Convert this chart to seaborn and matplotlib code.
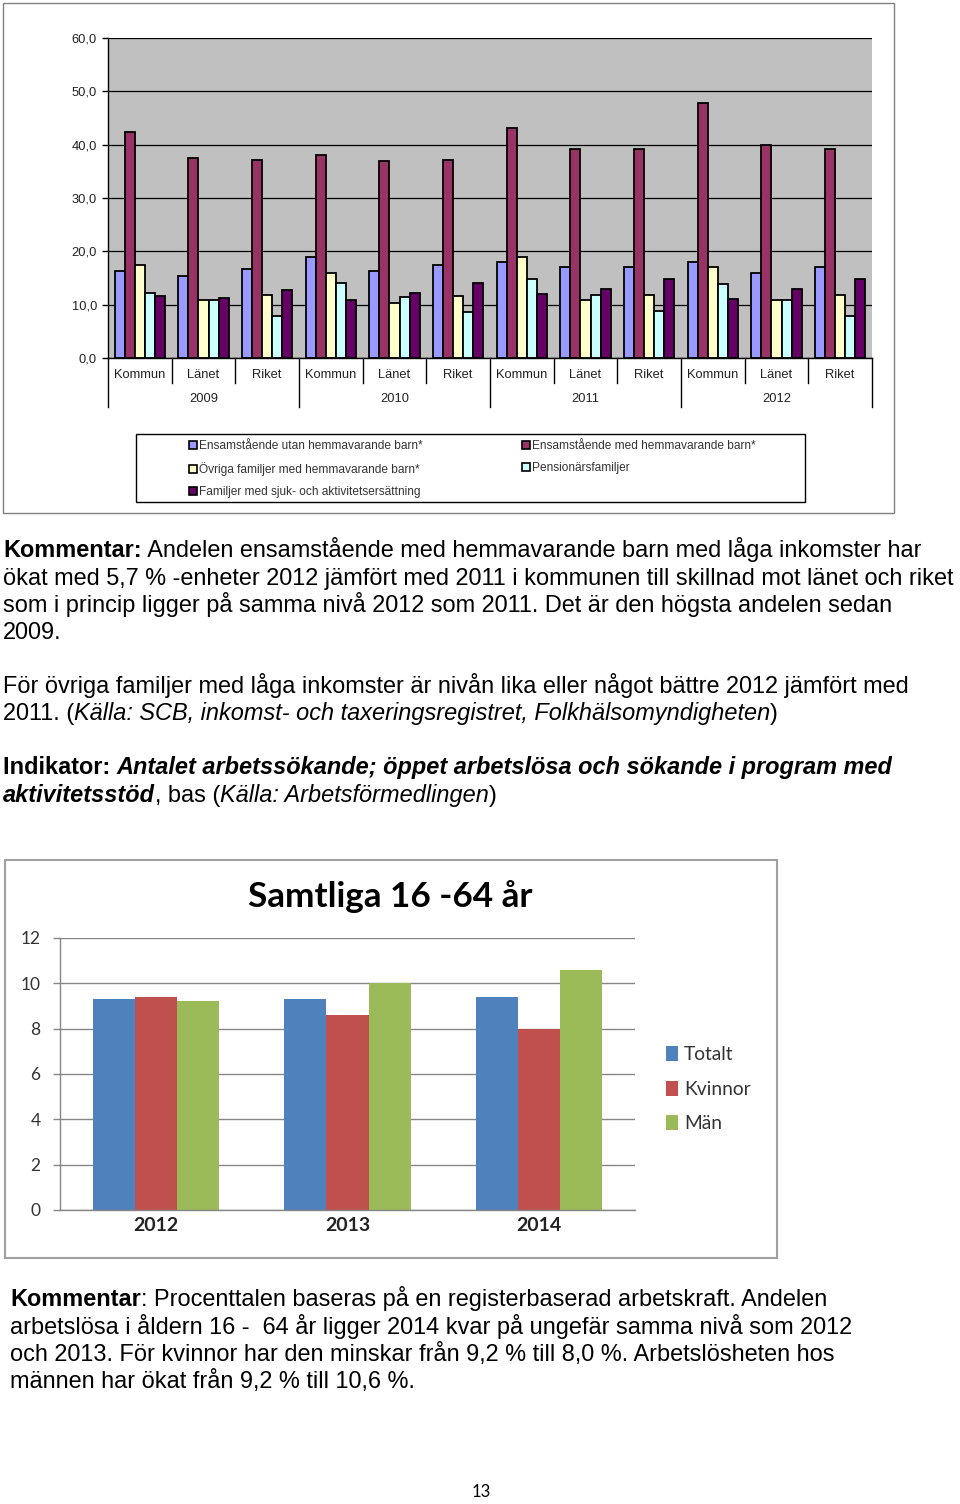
import numpy as np
import pandas as pd
import matplotlib
matplotlib.use("Agg")
import matplotlib.pyplot as plt
import seaborn as sns
from matplotlib.patches import Rectangle
from matplotlib.transforms import blended_transform_factory

# ---------------- data: top chart ----------------
years = ["2009", "2010", "2011", "2012"]
regions = ["Kommun", "Länet", "Riket"]
series_top = ["Ensamstående utan hemmavarande barn*",
              "Ensamstående med hemmavarande barn*",
              "Övriga familjer med hemmavarande barn*",
              "Pensionärsfamiljer",
              "Familjer med sjuk- och aktivitetsersättning"]
utan_barn = [16.4, 15.4, 16.6, 18.9, 16.4, 17.4, 18.0, 17.0, 17.0, 18.0, 16.0, 17.0]
med_barn = [42.3, 37.5, 37.1, 38.1, 36.9, 37.1, 43.1, 39.1, 39.1, 47.9, 40.0, 39.1]
ovriga = [17.4, 10.9, 11.8, 15.9, 10.4, 11.6, 18.9, 10.9, 11.9, 17.0, 10.9, 11.9]
pension = [12.2, 10.9, 7.9, 14.1, 11.4, 8.7, 14.9, 11.9, 8.9, 13.9, 10.9, 7.9]
sjuk = [11.6, 11.3, 12.8, 10.8, 12.1, 14.0, 12.0, 12.9, 14.9, 11.0, 12.9, 14.9]
colors_top = ["#9999FF", "#993366", "#FFFFCC", "#CCFFFF", "#660066"]
yticks_top = [0, 10, 20, 30, 40, 50, 60]

# ---------------- data: bottom chart ----------------
years_bot = ["2012", "2013", "2014"]
series_bot = ["Totalt", "Kvinnor", "Män"]
totalt = [9.3, 9.3, 9.4]
kvinnor = [9.4, 8.6, 8.0]
man = [9.2, 10.0, 10.6]
colors_bot = ["#4F81BD", "#C0504D", "#9BBB59"]
yticks_bot = [0, 2, 4, 6, 8, 10, 12]

W, H = 960, 1504
fig = plt.figure(figsize=(W / 100, H / 100), dpi=100)
fig.patch.set_facecolor("white")
TXT = ["Liberation Sans", "DejaVu Sans"]
CAL = ["Lato", "DejaVu Sans"]


def fx(x):
    return x / W


def fy(y):
    return 1 - y / H


def rect(x0, y0, x1, y1):
    return [fx(x0), fy(y1), fx(x1) - fx(x0), fy(y0) - fy(y1)]


# ================= top chart =================
fig.patches.append(Rectangle((fx(3), fy(513)), fx(894) - fx(3), fy(3) - fy(513),
                             transform=fig.transFigure, fill=False,
                             edgecolor="#808080", linewidth=1.0))

cats = [f"{y} {r}" for y in years for r in regions]
vals_top = [utan_barn, med_barn, ovriga, pension, sjuk]
df_top = pd.DataFrame({
    "cat": np.repeat([cats], len(series_top), axis=0).ravel(),
    "series": np.repeat(series_top, len(cats)),
    "value": np.concatenate(vals_top),
})
ax1 = fig.add_axes(rect(108, 38, 872, 358))
sns.barplot(data=df_top, x="cat", y="value", hue="series", order=cats,
            hue_order=series_top, palette=colors_top, saturation=1,
            width=0.79, edgecolor="black", linewidth=1.3, legend=False, ax=ax1)
ax1.set_facecolor("#C0C0C0")
ax1.set_xlim(-0.5, len(cats) - 0.5)
ax1.set_ylim(0, 60)
ax1.set_yticks(yticks_top)
ax1.set_yticklabels([f"{v:.1f}".replace(".", ",") for v in yticks_top],
                    fontsize=9.3, family=TXT, color="#222222")
ax1.tick_params(axis="y", length=4, width=1, pad=4, color="black")
ax1.set_xticks([])
ax1.set_xlabel("")
ax1.set_ylabel("")
ax1.grid(axis="y", color="black", linewidth=0.9)
ax1.set_axisbelow(True)
for s in ["top", "right"]:
    ax1.spines[s].set_visible(False)
ax1.spines["left"].set_color("black")
ax1.spines["bottom"].set_color("black")
ax1.spines["left"].set_linewidth(1.0)
ax1.spines["bottom"].set_linewidth(1.0)

bt = blended_transform_factory(ax1.transData, ax1.transAxes)
for i, c in enumerate(cats):
    ax1.text(i, -17 / 320, regions[i % 3], transform=bt, ha="center", va="center",
             fontsize=9.3, family=TXT, color="#222222")
for k, y in enumerate(years):
    ax1.text(3 * k + 1, -41 / 320, y, transform=bt, ha="center", va="center",
             fontsize=9.3, family=TXT, color="#222222")
for b in np.arange(-0.5, len(cats), 1.0):
    long_tick = (int(b + 0.5) % 3 == 0)
    depth = -49 / 320 if long_tick else -25 / 320
    ax1.plot([b, b], [0, depth], transform=bt, color="black", lw=1.0,
             clip_on=False)

# legend (custom frame + two columns)
fig.patches.append(Rectangle((fx(136), fy(502)), fx(805) - fx(136), fy(434) - fy(502),
                             transform=fig.transFigure, fill=False,
                             edgecolor="black", linewidth=1.0))
handles = [Rectangle((0, 0), 1, 1, facecolor=c, edgecolor="black", linewidth=1.2)
           for c in colors_top]
leg_kw = dict(frameon=False, handlelength=0.7, handleheight=0.7,
              handletextpad=0.15, labelspacing=0.85, borderpad=0, borderaxespad=0,
              loc="upper left", prop={"family": TXT, "size": 8.6})
legA = fig.legend([handles[0], handles[2], handles[4]],
                  [series_top[0], series_top[2], series_top[4]],
                  bbox_to_anchor=(fx(189), fy(440)), **leg_kw)
legB = fig.legend([handles[1], handles[3]], [series_top[1], series_top[3]],
                  bbox_to_anchor=(fx(522), fy(440)), **leg_kw)
for lg in (legA, legB):
    for t in lg.get_texts():
        t.set_color("#333333")

# ================= text blocks =================
fig.canvas.draw()
renderer = fig.canvas.get_renderer()


def run_width(txt, size, weight, style):
    t = fig.text(0, 0, txt + "|", fontsize=size, fontweight=weight, fontstyle=style,
                 family=TXT)
    t2 = fig.text(0, 0, "|", fontsize=size, fontweight=weight, fontstyle=style,
                  family=TXT)
    w = t.get_window_extent(renderer).width - t2.get_window_extent(renderer).width
    t.remove()
    t2.remove()
    return w


def fit_size(line, target):
    return 16 * target / run_width(line, 16, "normal", "normal")


def draw_line(x, base, parts, size):
    for txt, weight, style in parts:
        fig.text(fx(x), fy(base), txt, fontsize=size, fontweight=weight,
                 fontstyle=style, family=TXT, ha="left", va="baseline", color="black")
        x += run_width(txt, size, weight, style)


N, B, I = "normal", "bold", "italic"
size_a = fit_size("ökat med 5,7 % -enheter 2012 jämfört med 2011 i kommunen till "
                  "skillnad mot länet och riket", 953)
lines_a = [
    (557, [("Kommentar:", B, N), (" Andelen ensamstående med hemmavarande barn med "
                                  "låga inkomster har", N, N)]),
    (585, [("ökat med 5,7 % -enheter 2012 jämfört med 2011 i kommunen till skillnad "
            "mot länet och riket", N, N)]),
    (612, [("som i princip ligger på samma nivå 2012 som 2011. Det är den högsta "
            "andelen sedan", N, N)]),
    (639, [("2009.", N, N)]),
    (693, [("För övriga familjer med låga inkomster är nivån lika eller något bättre "
            "2012 jämfört med", N, N)]),
    (720, [("2011. (", N, N), ("Källa: SCB, inkomst- och taxeringsregistret, "
                               "Folkhälsomyndigheten", N, I), (")", N, N)]),
    (774, [("Indikator: ", B, N), ("Antalet arbetssökande; öppet arbetslösa och "
                                   "sökande i program med", B, I)]),
    (802, [("aktivitetsstöd", B, I), (", bas (", N, N),
           ("Källa: Arbetsförmedlingen", N, I), (")", N, N)]),
]
for base, parts in lines_a:
    draw_line(3, base, parts, size_a)

size_b = fit_size("arbetslösa i åldern 16 -  64 år ligger 2014 kvar på ungefär samma "
                  "nivå som 2012", 845)
lines_b = [
    (1306, [("Kommentar", B, N), (": Procenttalen baseras på en registerbaserad "
                                  "arbetskraft. Andelen", N, N)]),
    (1334, [("arbetslösa i åldern 16 -  64 år ligger 2014 kvar på ungefär samma "
             "nivå som 2012", N, N)]),
    (1361, [("och 2013. För kvinnor har den minskar från 9,2 % till 8,0 %. "
             "Arbetslösheten hos", N, N)]),
    (1388, [("männen har ökat från 9,2 % till 10,6 %.", N, N)]),
]
for base, parts in lines_b:
    draw_line(10, base, parts, size_b)

fig.text(fx(481), fy(1492), "13", fontsize=12, family=CAL, ha="center",
         va="center", color="black")

# ================= bottom chart =================
fig.patches.append(Rectangle((fx(5), fy(1258)), fx(777) - fx(5), fy(860) - fy(1258),
                             transform=fig.transFigure, fill=False,
                             edgecolor="#A0A0A0", linewidth=1.5))
fig.text(fx(390), fy(897), "Samtliga 16 -64 år", fontsize=25.3, fontweight="bold",
         family=CAL, ha="center", va="center", color="black")

df_bot = pd.DataFrame({
    "year": np.tile(years_bot, len(series_bot)),
    "series": np.repeat(series_bot, len(years_bot)),
    "value": np.concatenate([totalt, kvinnor, man]),
})
ax2 = fig.add_axes(rect(60, 938, 635, 1210))
sns.barplot(data=df_bot, x="year", y="value", hue="series", order=years_bot,
            hue_order=series_bot, palette=colors_bot, saturation=1, width=0.66,
            linewidth=0, legend=False, ax=ax2)
ax2.set_xlim(-0.5, 2.5)
ax2.set_ylim(0, 12)
ax2.set_yticks(yticks_bot)
ax2.set_yticklabels([str(v) for v in yticks_bot], fontsize=12.5, family=CAL,
                    color="#333333")
ax2.tick_params(axis="y", length=5, width=1, color="#868686", pad=9)
ax2.tick_params(axis="x", length=0, pad=5)
ax2.set_xticks(range(len(years_bot)))
ax2.set_xticklabels(years_bot, fontsize=14, fontweight="bold", family=CAL,
                    color="#222222")
ax2.set_xlabel("")
ax2.set_ylabel("")
ax2.grid(axis="y", color="#868686", linewidth=1.0)
ax2.set_axisbelow(True)
for s in ["top", "right"]:
    ax2.spines[s].set_visible(False)
for s in ["left", "bottom"]:
    ax2.spines[s].set_color("#868686")
    ax2.spines[s].set_linewidth(1.0)

hb = [Rectangle((0, 0), 1, 1, facecolor=c, edgecolor="none") for c in colors_bot]
leg2 = fig.legend(hb, series_bot, loc="upper left", bbox_to_anchor=(fx(666), fy(1046)),
                  frameon=False, handlelength=0.65, handleheight=0.85,
                  handletextpad=0.3, labelspacing=0.9, borderpad=0, borderaxespad=0,
                  prop={"family": CAL, "size": 13.8})
for t in leg2.get_texts():
    t.set_color("#333333")

fig.savefig("out.png", dpi=100, facecolor="white")
